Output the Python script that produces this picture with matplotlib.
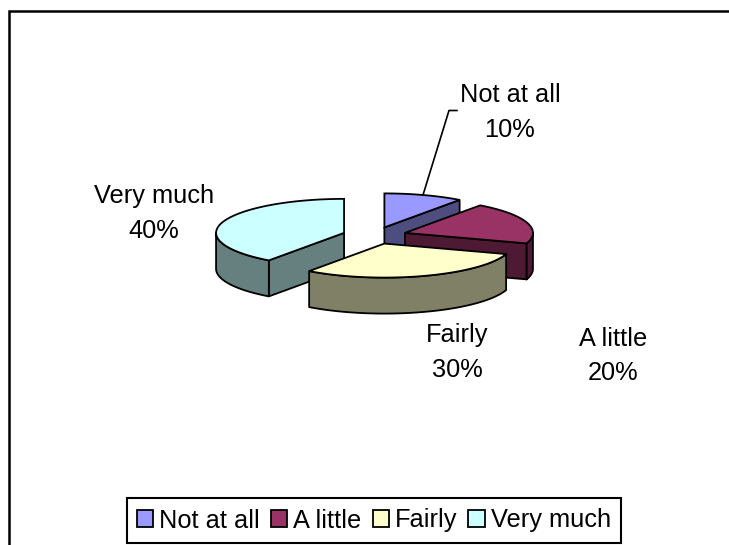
# coding: utf-8

import numpy as np
import matplotlib
matplotlib.use('Agg')
import matplotlib.pyplot as plt
from matplotlib.patches import Polygon, Rectangle

categories = ['Not at all', 'A little', 'Fairly', 'Very much']
shares = [10, 20, 30, 40]
top_colors = ['#9999FF', '#993366', '#FFFFCC', '#CCFFFF']
side_colors = ['#4D4D80', '#4D1933', '#808066', '#668080']

plt.rcParams['font.family'] = ['Liberation Sans', 'DejaVu Sans']

# 伪3D饼图的几何参数（像素）
cx, cy = 374.5, 235.5
rx, ry = 128, 34
depth = 36
explode = 0.25


def rim(theta, ox, oy, down=0):
    t = np.radians(theta)
    return np.column_stack([ox + rx * np.sin(t), oy - ry * np.cos(t) + down])


def wall(pts, color):
    poly = np.vstack([pts, (pts + [0, depth])[::-1]])
    ax.add_patch(Polygon(poly, closed=True, fc=color, ec='black', lw=1.3, joinstyle='round'))


fig = plt.figure(dpi=100, figsize=(7.29, 5.45))
ax = fig.add_axes([0, 0, 1, 1])
ax.set_xlim(0, 729)
ax.set_ylim(545, 0)
ax.axis('off')

# 外框，右边和下边在图外
ax.add_patch(Rectangle((9.5, 11), 760, 560, fc='white', ec='black', lw=1.8))

# 从12点方向顺时针
edges = np.cumsum([0] + shares) * 3.6
slices = []
for i in range(len(shares)):
    mid = np.radians((edges[i] + edges[i + 1]) / 2)
    ox = cx + explode * rx * np.sin(mid)
    oy = cy - explode * ry * np.cos(mid)
    slices.append((oy, i, ox))

for oy, i, ox in sorted(slices):
    a, b = edges[i], edges[i + 1]
    apex = np.array([[ox, oy]])
    arc = rim(np.linspace(a, b, 80), ox, oy)
    # 只画朝向观察者的侧面
    if np.cos(np.radians(a - 90)) < -1e-9:
        wall(np.vstack([apex, rim(np.array([a]), ox, oy)]), side_colors[i])
    if np.cos(np.radians(b + 90)) < -1e-9:
        wall(np.vstack([apex, rim(np.array([b]), ox, oy)]), side_colors[i])
    lo, hi = max(a, 90), min(b, 270)
    if lo < hi:
        wall(rim(np.linspace(lo, hi, 80), ox, oy), side_colors[i])
    ax.add_patch(Polygon(np.vstack([apex, arc]), closed=True, fc=top_colors[i],
                         ec='black', lw=1.3))

fs = 18.3
ax.text(510, 102, categories[0], fontsize=fs, ha='center', va='baseline')
ax.text(510, 137, '%d%%' % shares[0], fontsize=fs, ha='center', va='baseline')
ax.text(613, 346, categories[1], fontsize=fs, ha='center', va='baseline')
ax.text(613, 380, '%d%%' % shares[1], fontsize=fs, ha='center', va='baseline')
ax.text(457, 342, categories[2], fontsize=fs, ha='center', va='baseline')
ax.text(457, 377, '%d%%' % shares[2], fontsize=fs, ha='center', va='baseline')
ax.text(154, 203, categories[3], fontsize=fs, ha='center', va='baseline')
ax.text(154, 238, '%d%%' % shares[3], fontsize=fs, ha='center', va='baseline')

# 引导线
ax.plot([423, 449, 457], [195, 110.5, 110.5], color='black', lw=1.2)

handles = [Rectangle((0, 0), 1, 1, fc=c, ec='black', lw=1.3) for c in top_colors]
leg = ax.legend(handles, categories, ncol=4, loc='center', bbox_to_anchor=(374, 520.5),
                bbox_transform=ax.transData, fontsize=fs, frameon=True, fancybox=False,
                edgecolor='black', framealpha=1, handlelength=0.64, handleheight=0.64,
                handletextpad=0.24, columnspacing=0.43, borderpad=0.4, borderaxespad=0)
leg.get_frame().set_linewidth(1.5)

plt.savefig('out.png', dpi=100)
